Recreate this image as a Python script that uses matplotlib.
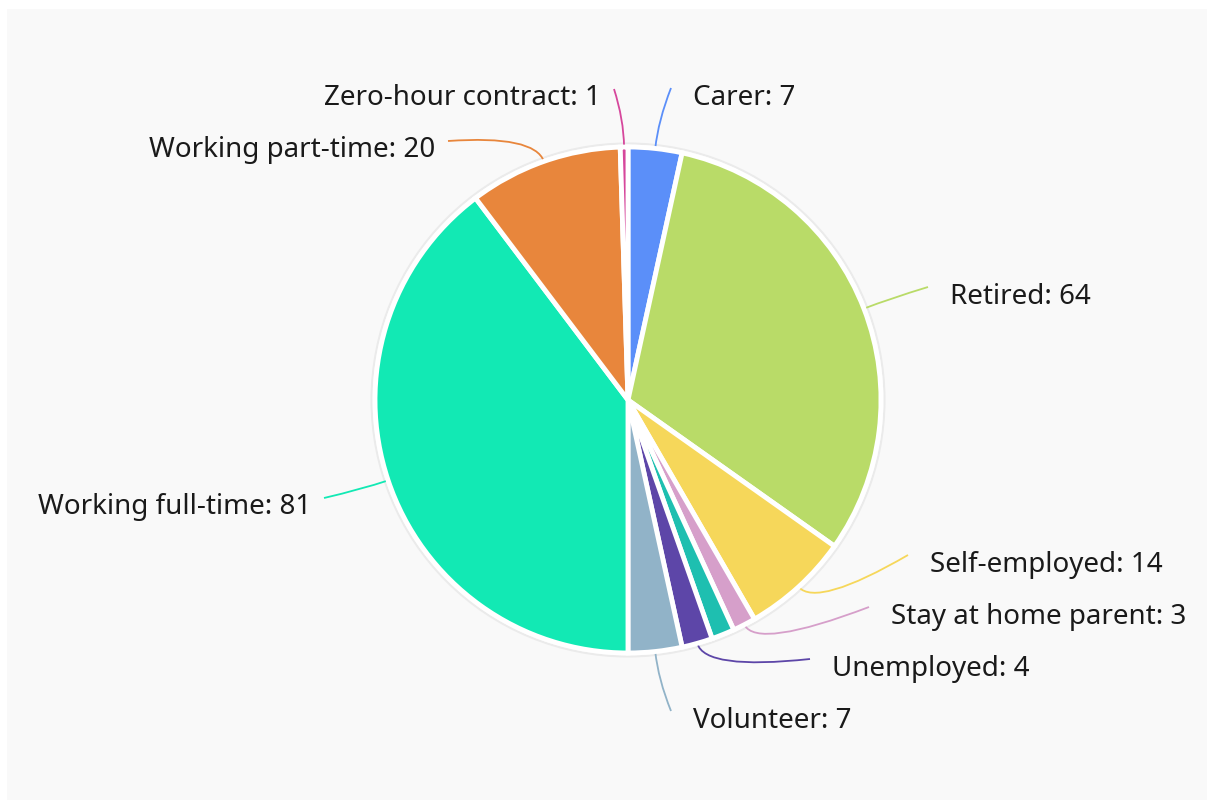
import numpy as np
import matplotlib
matplotlib.use("Agg")
import matplotlib.pyplot as plt
from matplotlib.patches import Rectangle, Circle, PathPatch
from matplotlib.path import Path

plt.rcParams['font.family'] = ['Noto Sans', 'DejaVu Sans']

# Dados (ordem do gráfico, sentido horário a partir do topo)
categories = ["Carer", "Retired", "Self-employed", "Stay at home parent", "Student",
              "Unemployed", "Volunteer", "Working full-time", "Working part-time",
              "Zero-hour contract"]
values = [7, 64, 14, 3, 3, 4, 7, 81, 20, 1]
show_label = [True, True, True, True, False, True, True, True, True, True]
colors = ["#5b8ff9", "#b9db68", "#f6d75a", "#d69fca", "#1ebfb0",
          "#5d46a8", "#91b3c8", "#12e9b4", "#e8863c", "#d6479c"]

# Posição dos rótulos em pixels (x da borda do texto, y do centro)
label_x = [693, 950, 930, 891, None, 832, 693, 311, 435, 601]
label_y = [98, 297, 565, 617, None, 669, 721, 507, 150, 98]

W, H = 1209, 805
cx, cy, R = 628, H - 400, 253

fig = plt.figure(figsize=(W / 100, H / 100), dpi=100)
fig.patch.set_facecolor("white")
ax = fig.add_axes([0, 0, 1, 1])

ax.add_patch(Rectangle((7, 5), W - 9, H - 14, facecolor="#f9f9f9", edgecolor="none", zorder=0))
ax.add_patch(Circle((cx, cy), R + 3.5, facecolor="none", edgecolor="#ebebeb", lw=1.5, zorder=1))

wedges, _ = ax.pie(values, colors=colors, startangle=90, counterclock=False,
                   center=(cx, cy), radius=R,
                   wedgeprops=dict(edgecolor="white", linewidth=3.5))
for w in wedges:
    w.set_zorder(2)

total = sum(values)
cum = np.cumsum([0] + values)
for i, cat in enumerate(categories):
    if not show_label[i]:
        continue
    mid = np.deg2rad(90 - (cum[i] + values[i] / 2) / total * 360)
    d = np.array([np.cos(mid), np.sin(mid)])
    p0 = np.array([cx, cy]) + d * R
    p1 = p0 + d * 28
    right = d[0] > 0
    ly = H - label_y[i]
    if right:
        p2 = np.array([label_x[i] - 22, ly + 10])
    else:
        p2 = np.array([label_x[i] + 13, ly + 9])
    path = Path([p0, p1, p2], [Path.MOVETO, Path.CURVE3, Path.CURVE3])
    ax.add_patch(PathPatch(path, facecolor="none", edgecolor=colors[i], lw=1.3, zorder=1.5))
    ax.text(label_x[i], ly, f"{cat}: {values[i]}", ha="left" if right else "right",
            va="center", fontsize=20, color="#1a1a1a", zorder=3)

ax.set_xlim(0, W)
ax.set_ylim(0, H)
ax.set_aspect("auto")
ax.axis("off")

fig.savefig("out.png", dpi=100, facecolor="white")
